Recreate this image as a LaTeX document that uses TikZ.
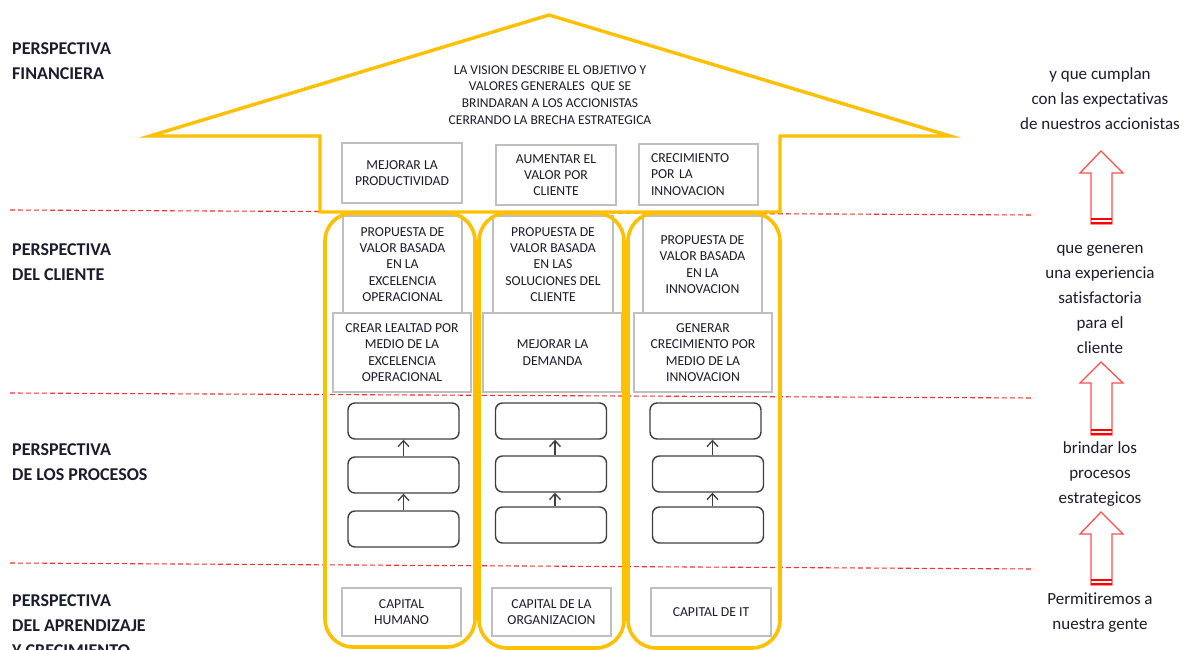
\documentclass[tikz,border=0pt]{standalone}
\usepackage{fontspec}
\setmainfont{Carlito}[Ligatures=NoCommon]
\usepackage{tikz}
\usetikzlibrary{arrows.meta}

\definecolor{gold}{HTML}{FFC000}
\definecolor{boxgray}{HTML}{BFBFBF}
\definecolor{procgray}{HTML}{3F3F3F}
\definecolor{linered}{HTML}{FF3030}
\definecolor{arrowred}{HTML}{FF5050}
\definecolor{txt}{HTML}{1C1C2C}

\tikzset{
  box/.style={draw=boxgray, line width=1.3pt, fill=white, align=center, inner sep=0pt,
    text=txt, font=\fontsize{13.7}{16.3}\selectfont},
  procbox/.style={draw=procgray, line width=1.4pt, rounded corners=7pt, fill=white,
    minimum width=111pt, minimum height=36pt},
  link/.style={draw=procgray, line width=1.3pt, -{Straight Barb[length=6pt,width=11pt]}},
  pillar/.style={draw=gold, line width=3.6pt, rounded corners=28pt},
  house/.style={draw=gold, line width=3.4pt, line join=miter},
  level/.style={draw=linered, line width=1.1pt, dash pattern=on 5pt off 3pt},
  persp/.style={font=\fontsize{18}{25}\selectfont\bfseries, align=left, anchor=west,
    inner sep=0pt, text=txt},
  note/.style={font=\fontsize{17}{25}\selectfont, align=center, text=txt},
  uparrow/.style={draw=arrowred, line width=1.3pt, fill=white},
  arrowfoot/.style={draw=red, line width=2.3pt},
}

\begin{document}
\begin{tikzpicture}[x=1pt,y=-1pt]
\path[use as bounding box, fill=white] (0,0) rectangle (1195,650);

% level borders
\coordinate (lv1a) at (10,210);  \coordinate (lv1b) at (1034,215);
\coordinate (lv2a) at (10,393);  \coordinate (lv2b) at (1034,398);
\coordinate (lv3a) at (10,563);  \coordinate (lv3b) at (1034,569);
\draw[level] (lv1a) -- (lv1b);
\draw[level] (lv2a) -- (lv2b);
\draw[level] (lv3a) -- (lv3b);

% the roof and the top of the house
\draw[house] (549,15) -- (950,136) -- (780,136) -- (780,212) -- (320,212) -- (320,136) -- (150,136) -- cycle;
\node[font=\fontsize{13.5}{16.7}\selectfont, align=center, text=txt] (vision) at (550,95)
  {LA VISION DESCRIBE EL OBJETIVO Y\\VALORES GENERALES\ \ QUE SE\\BRINDARAN A LOS ACCIONISTAS\\CERRANDO LA BRECHA ESTRATEGICA};

\node[box, minimum width=120pt, minimum height=60pt] (fin1) at (402,173) {MEJORAR LA\\PRODUCTIVIDAD};
\node[box, minimum width=120pt, minimum height=60pt] (fin2) at (556,175) {AUMENTAR EL\\VALOR POR\\CLIENTE};
\node[box, minimum width=119pt, minimum height=61pt, text width=95pt, align=left] (fin3) at (698.5,174.5) {CRECIMIENTO\\POR LA\\INNOVACION};

% client
\node[box, minimum width=119pt, minimum height=97pt] (cli1) at (402.5,264.5) {PROPUESTA DE\\VALOR BASADA\\EN LA\\EXCELENCIA\\OPERACIONAL};
\node[box, minimum width=120pt, minimum height=97pt] (cli2) at (553,264.5) {PROPUESTA DE\\VALOR BASADA\\EN LAS\\SOLUCIONES DEL\\CLIENTE};
\node[box, minimum width=119pt, minimum height=97pt] (cli3) at (702.5,264.5) {PROPUESTA DE\\VALOR BASADA\\EN LA\\INNOVACION};

\node[box, minimum width=138pt, minimum height=79pt] (val1) at (402,352.5) {CREAR LEALTAD POR\\MEDIO DE LA\\EXCELENCIA\\OPERACIONAL};
\node[box, minimum width=139pt, minimum height=79pt] (val2) at (552.5,352.5) {MEJORAR LA\\DEMANDA};
\node[box, minimum width=138pt, minimum height=79pt] (val3) at (703,352.5) {GENERAR\\CRECIMIENTO POR\\MEDIO DE LA\\INNOVACION};

% processes
\node[procbox] (proc11) at (403.5,421) {};
\node[procbox] (proc12) at (403.5,475) {};
\node[procbox] (proc13) at (403.5,529) {};
\node[procbox] (proc21) at (551,421) {};
\node[procbox] (proc22) at (551,474) {};
\node[procbox] (proc23) at (551,525) {};
\node[procbox] (proc31) at (705.5,421) {};
\node[procbox] (proc32) at (708,474) {};
\node[procbox] (proc33) at (708,525) {};

\draw[link] (proc13.north) -- (proc12.south);
\draw[link] (proc12.north) -- (proc11.south);
\draw[link] ([xshift=4pt]proc23.north) -- ([xshift=4pt]proc22.south);
\draw[link] ([xshift=4pt]proc22.north) -- ([xshift=4pt]proc21.south);
\draw[link] ([xshift=4.5pt]proc33.north) -- ([xshift=4.5pt]proc32.south);
\draw[link] ([xshift=4.5pt]proc32.north) -- ([xshift=4.5pt]proc32.north |- proc31.south);

% learning
\node[box, minimum width=119pt, minimum height=48pt] (cap1) at (401.5,612) {CAPITAL\\HUMANO};
\node[box, minimum width=119pt, minimum height=48pt] (cap2) at (551.5,612) {CAPITAL DE LA\\ORGANIZACION};
\node[box, minimum width=120pt, minimum height=48pt] (cap3) at (711,612) {CAPITAL DE IT};

% pillars
\draw[pillar] (325,213) rectangle (475,647);
\draw[pillar] (479,213) rectangle (624,648);
\draw[pillar] (628,213) rectangle (780,648);

% perspectives
\node[persp] (pfin) at (12,61.5) {PERSPECTIVA\\FINANCIERA};
\node[persp] (pcli) at (12,262.5) {PERSPECTIVA\\DEL CLIENTE};
\node[persp] (ppro) at (12,462.5) {PERSPECTIVA\\DE LOS PROCESOS};
\node[persp] (papr) at (12,626) {PERSPECTIVA\\DEL APRENDIZAJE\\Y CRECIMIENTO};

% right side
\node[note] (note1) at (1100,99) {y que cumplan\\con las expectativas\\de nuestros accionistas};
\node[note] (note2) at (1100,299) {que generen\\una experiencia\\satisfactoria\\para el\\cliente};
\node[note] (note3) at (1100,474) {brindar los\\procesos\\estrategicos};
\node[note] (note4) at (1100,612.5) {Permitiremos a\\nuestra gente};

\draw[uparrow] (1101,151) -- ++(22,22) -- ++(-11,0) -- ++(0,51) -- ++(-21,0) -- ++(0,-51) -- ++(-11,0) -- cycle;
\draw[arrowfoot] (1091,222.8) -- (1112,222.8) (1091,218.8) -- (1112,218.8);
\draw[uparrow] (1101,362) -- ++(22,21) -- ++(-11,0) -- ++(0,52) -- ++(-21,0) -- ++(0,-52) -- ++(-11,0) -- cycle;
\draw[arrowfoot] (1091,433.8) -- (1112,433.8) (1091,429.8) -- (1112,429.8);
\draw[uparrow] (1101,512) -- ++(22,22) -- ++(-11,0) -- ++(0,51) -- ++(-21,0) -- ++(0,-51) -- ++(-11,0) -- cycle;
\draw[arrowfoot] (1091,583.8) -- (1112,583.8) (1091,579.8) -- (1112,579.8);

\end{tikzpicture}
\end{document}
